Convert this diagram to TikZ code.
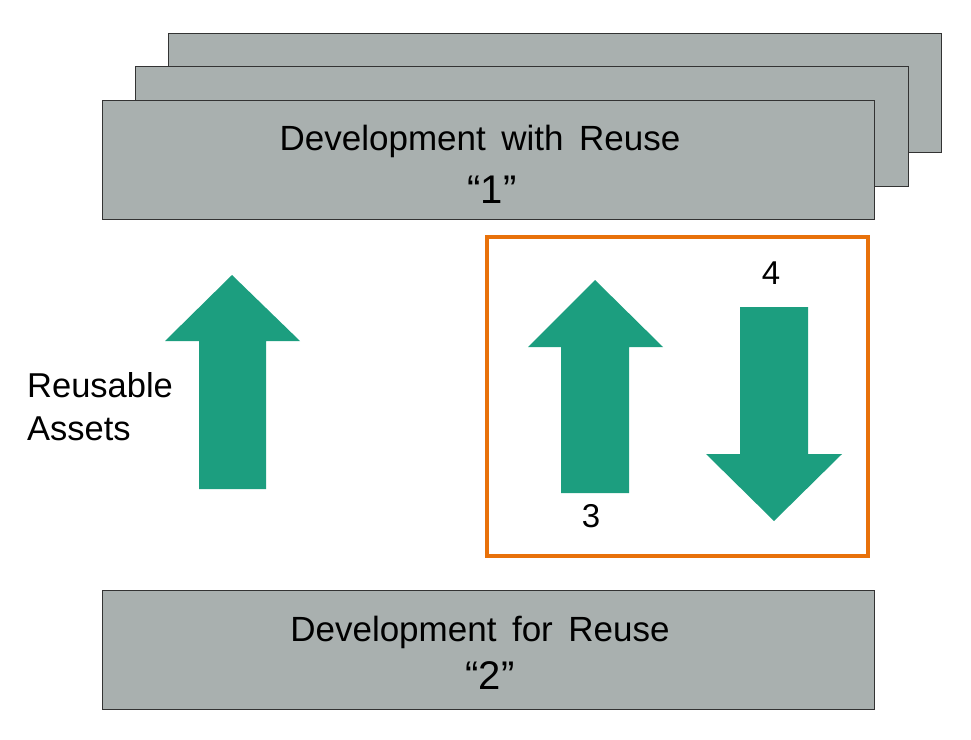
\documentclass[tikz,border=0pt]{standalone}
\usepackage{fontspec}
\setmainfont{Liberation Sans}
\definecolor{boxgray}{HTML}{A9B0AF}
\definecolor{arrgreen}{HTML}{1C9E7F}
\definecolor{frameorange}{HTML}{E8710A}
\begin{document}
\begin{tikzpicture}[x=1pt,y=-1pt,
  graybox/.style={draw=black!80,line width=1pt,fill=boxgray},
  bigarrow/.style={fill=arrgreen,draw=none},
  lbl/.style={font=\fontsize{33}{43}\selectfont,text=black,inner sep=0pt},
  sidetext/.style={font=\fontsize{34.5}{43}\selectfont,text=black,inner sep=0pt},
  boxtext/.style={font=\fontsize{35}{40}\selectfont,text=black,inner sep=0pt,align=center},
  quotetext/.style={font=\fontsize{40}{44}\selectfont,text=black,inner sep=0pt}]
\useasboundingbox (0,0) rectangle (971,739);
% stacked boxes
\draw[graybox] (168,33) rectangle (941,152);
\draw[graybox] (135,66) rectangle (908,186);
\draw[graybox] (102,100) rectangle (874,219);
\node[boxtext] (t1) at (480,141) {Development\, with\, Reuse};
\node[quotetext] (q1) at (492,190) {“1”};
% bottom box
\draw[graybox] (102,590) rectangle (874,709);
\node[boxtext] (t2) at (480,632) {Development\, for\, Reuse};
\node[quotetext] (q2) at (490,676) {“2”};
% orange frame
\draw[frameorange,line width=3.5pt] (487,237) rectangle (868,556);
% left arrow
\fill[bigarrow] (232,275) -- (300,341) -- (266,341) -- (266,489) -- (199,489) -- (199,341) -- (165,341) -- cycle;
\node[sidetext,align=left,anchor=west] (ra) at (27,407) {Reusable\\Assets};
% arrow 3
\fill[bigarrow] (595,280) -- (663,347) -- (629,347) -- (629,493) -- (561,493) -- (561,347) -- (528,347) -- cycle;
\node[lbl] (n3) at (591,516) {3};
% arrow 4
\fill[bigarrow] (774,521) -- (842,454) -- (808,454) -- (808,307) -- (740,307) -- (740,454) -- (706,454) -- cycle;
\node[lbl] (n4) at (771,273) {4};
\end{tikzpicture}
\end{document}
